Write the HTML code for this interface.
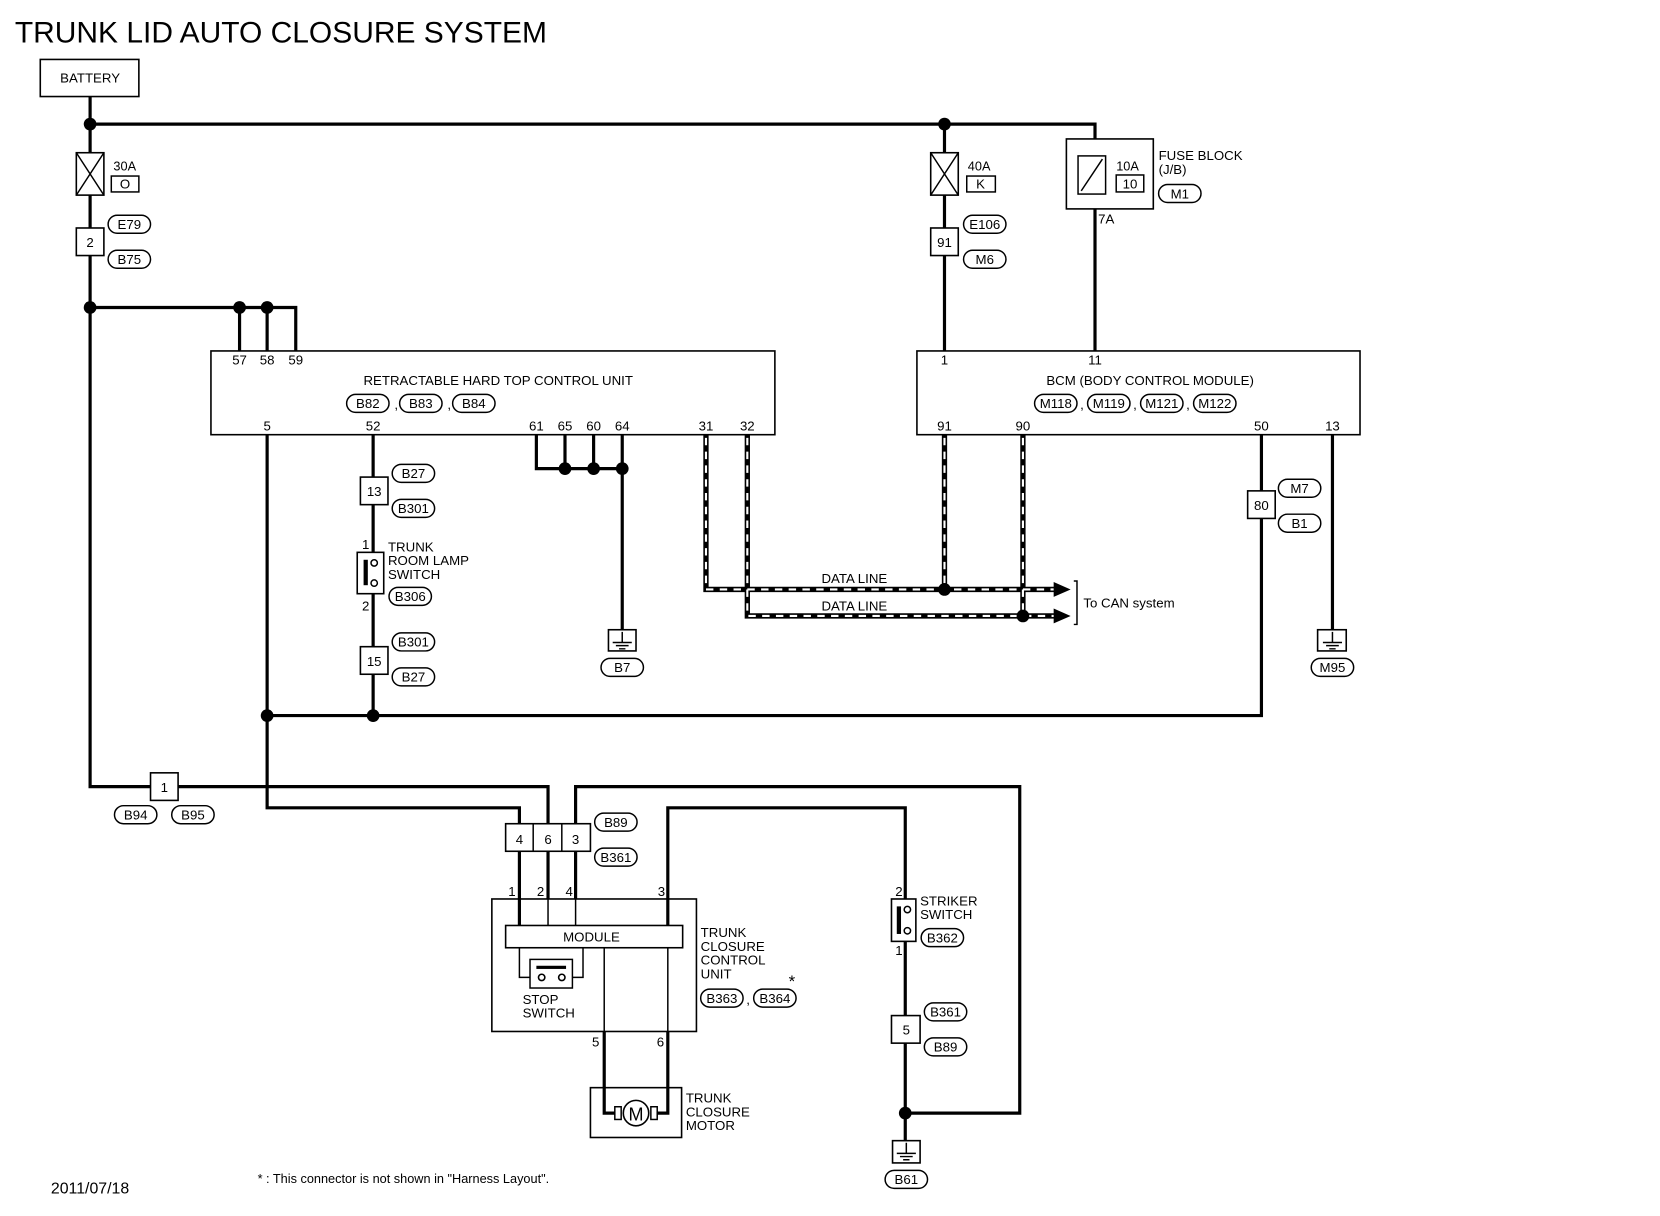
<!DOCTYPE html>
<html><head><meta charset="utf-8"><style>
html,body{margin:0;padding:0;background:#fff}
svg{display:block}
text{font-family:"Liberation Sans",sans-serif;font-size:12.5px;fill:#000}
.w{stroke:#000;stroke-width:3;fill:none}
.t{stroke:#000;stroke-width:1.4;fill:none}
.b{stroke:#000;stroke-width:1.5;fill:#fff}
.c{text-anchor:middle}
</style></head><body>
<svg width="1660" height="1216" viewBox="0 0 1566 1147" xmlns="http://www.w3.org/2000/svg">
<text x="14" y="40" style="font-size:28px" textLength="502" lengthAdjust="spacingAndGlyphs">TRUNK LID AUTO CLOSURE SYSTEM</text>
<!-- battery -->
<rect x="38" y="56" width="93" height="35" class="b"/><text x="85" y="78" class="c">BATTERY</text>
<path class="w" d="M85 91V742H517V777M85 117H1033V131M891 117V331M1033 197V331"/>
<circle cx="85" cy="117" r="6"/><circle cx="891" cy="117" r="6"/>
<!-- 30A fuse -->
<rect x="72" y="144" width="26" height="40" class="b"/><path class="t" d="M72 144L98 184M98 144L72 184"/>
<text x="107" y="161" style="font-size:12px">30A</text><rect x="105" y="166" width="26" height="15" class="t"/><text x="118" y="178" class="c">O</text>
<rect x="72" y="215" width="26" height="26" class="b"/><text x="85" y="233" class="c">2</text>
<rect x="102" y="203" width="40" height="17" rx="8.5" class="t"/><text x="122" y="216" class="c">E79</text>
<rect x="102" y="236" width="40" height="17" rx="8.5" class="t"/><text x="122" y="249" class="c">B75</text>
<path class="w" d="M85 290H279V331M226 290V331M252 290V331"/>
<circle cx="85" cy="290" r="6"/><circle cx="226" cy="290" r="6"/><circle cx="252" cy="290" r="6"/>
<!-- RHT unit -->
<rect x="199" y="331" width="532" height="79" class="b"/>
<text x="226" y="344" class="c">57</text><text x="252" y="344" class="c">58</text><text x="279" y="344" class="c">59</text>
<text x="470" y="363" class="c">RETRACTABLE HARD TOP CONTROL UNIT</text>
<rect x="327" y="372" width="40" height="17" rx="8.5" class="t"/><text x="347" y="385" class="c">B82</text><text x="372" y="386">,</text>
<rect x="377" y="372" width="40" height="17" rx="8.5" class="t"/><text x="397" y="385" class="c">B83</text><text x="422" y="386">,</text>
<rect x="427" y="372" width="40" height="17" rx="8.5" class="t"/><text x="447" y="385" class="c">B84</text>
<text x="252" y="406" class="c">5</text><text x="352" y="406" class="c">52</text><text x="506" y="406" class="c">61</text><text x="533" y="406" class="c">65</text><text x="560" y="406" class="c">60</text><text x="587" y="406" class="c">64</text><text x="666" y="406" class="c">31</text><text x="705" y="406" class="c">32</text>
<path class="w" d="M252 410V762H490V777M352 410V450M352 476V521M352 560V610M352 636V675M252 675H1190V410"/>
<circle cx="252" cy="675" r="6"/><circle cx="352" cy="675" r="6"/>
<rect x="340" y="450" width="26" height="26" class="b"/><text x="353" y="468" class="c">13</text>
<rect x="370" y="438" width="40" height="17" rx="8.5" class="t"/><text x="390" y="451" class="c">B27</text>
<rect x="370" y="471" width="40" height="17" rx="8.5" class="t"/><text x="390" y="484" class="c">B301</text>
<rect x="337" y="521" width="25" height="39" class="b"/><rect x="343" y="528" width="4" height="24"/><circle cx="353" cy="531" r="3" class="t"/><circle cx="353" cy="550" r="3" class="t"/>
<text x="345" y="518" class="c">1</text><text x="345" y="576" class="c">2</text>
<text x="366" y="520">TRUNK</text><text x="366" y="533">ROOM LAMP</text><text x="366" y="546">SWITCH</text>
<rect x="367" y="554" width="40" height="17" rx="8.5" class="t"/><text x="387" y="567" class="c">B306</text>
<rect x="340" y="610" width="26" height="26" class="b"/><text x="353" y="628" class="c">15</text>
<rect x="370" y="597" width="40" height="17" rx="8.5" class="t"/><text x="390" y="610" class="c">B301</text>
<rect x="370" y="630" width="40" height="17" rx="8.5" class="t"/><text x="390" y="643" class="c">B27</text>
<path class="w" d="M506 410V442H587M533 410V442M560 410V442M587 410V594"/>
<circle cx="533" cy="442" r="6"/><circle cx="560" cy="442" r="6"/><circle cx="587" cy="442" r="6"/>
<rect x="574" y="594" width="26" height="20" class="b"/><path class="t" d="M587 596V606M578 606H596M581 609H593M584 612H590"/>
<rect x="567" y="621" width="40" height="17" rx="8.5" class="t"/><text x="587" y="634" class="c">B7</text>
<!-- data lines -->
<path stroke="#000" stroke-width="5" fill="none" d="M666 410V556H1000M705 410V581H1000M891 410V556M965 410V581"/>
<path stroke="#fff" stroke-width="2" fill="none" stroke-dasharray="7 6" d="M666 413V556H995M705 413V581H995M891 413V556M965 413V581"/>
<path d="M994 549L1010 556L994 563Z M994 574L1010 581L994 588Z"/>
<circle cx="891" cy="556" r="6"/><circle cx="965" cy="581" r="6"/>
<text x="806" y="550" class="c">DATA LINE</text><text x="806" y="576" class="c">DATA LINE</text>
<path class="t" d="M1013 548H1016V589H1013"/>
<text x="1022" y="573">To CAN system</text>
<!-- 40A -->
<rect x="878" y="144" width="26" height="40" class="b"/><path class="t" d="M878 144L904 184M904 144L878 184"/>
<text x="913" y="161" style="font-size:12px">40A</text><rect x="912" y="166" width="27" height="15" class="t"/><text x="925" y="178" class="c">K</text>
<rect x="878" y="215" width="26" height="26" class="b"/><text x="891" y="233" class="c">91</text>
<rect x="909" y="203" width="40" height="17" rx="8.5" class="t"/><text x="929" y="216" class="c">E106</text>
<rect x="909" y="236" width="40" height="17" rx="8.5" class="t"/><text x="929" y="249" class="c">M6</text>
<!-- fuse block -->
<rect x="1006" y="131" width="82" height="66" class="b"/>
<rect x="1017" y="147" width="26" height="36" class="t"/><path class="t" d="M1020 180L1040 150"/>
<text x="1053" y="161" style="font-size:12px">10A</text><rect x="1053" y="165" width="26" height="16" class="t"/><text x="1066" y="178" class="c">10</text>
<text x="1093" y="151">FUSE BLOCK</text><text x="1093" y="164">(J/B)</text>
<rect x="1093" y="174" width="40" height="17" rx="8.5" class="t"/><text x="1113" y="187" class="c">M1</text>
<text x="1036" y="211">7A</text>
<!-- BCM -->
<rect x="865" y="331" width="418" height="79" class="b"/>
<text x="891" y="344" class="c">1</text><text x="1033" y="344" class="c">11</text>
<text x="1085" y="363" class="c">BCM (BODY CONTROL MODULE)</text>
<rect x="976" y="372" width="40" height="17" rx="8.5" class="t"/><text x="996" y="385" class="c">M118</text><text x="1019" y="386">,</text>
<rect x="1026" y="372" width="40" height="17" rx="8.5" class="t"/><text x="1046" y="385" class="c">M119</text><text x="1069" y="386">,</text>
<rect x="1076" y="372" width="40" height="17" rx="8.5" class="t"/><text x="1096" y="385" class="c">M121</text><text x="1119" y="386">,</text>
<rect x="1126" y="372" width="40" height="17" rx="8.5" class="t"/><text x="1146" y="385" class="c">M122</text>
<text x="891" y="406" class="c">91</text><text x="965" y="406" class="c">90</text><text x="1190" y="406" class="c">50</text><text x="1257" y="406" class="c">13</text>
<rect x="1177" y="463" width="26" height="26" class="b"/><text x="1190" y="481" class="c">80</text>
<rect x="1206" y="452" width="40" height="17" rx="8.5" class="t"/><text x="1226" y="465" class="c">M7</text>
<rect x="1206" y="485" width="40" height="17" rx="8.5" class="t"/><text x="1226" y="498" class="c">B1</text>
<path class="w" d="M1257 410V594"/>
<rect x="1243" y="594" width="27" height="20" class="b"/><path class="t" d="M1257 596V606M1248 606H1266M1251 609H1263M1254 612H1260"/>
<rect x="1237" y="621" width="40" height="17" rx="8.5" class="t"/><text x="1257" y="634" class="c">M95</text>
<!-- bottom -->
<rect x="142" y="729" width="26" height="26" class="b"/><text x="155" y="747" class="c">1</text>
<rect x="108" y="760" width="40" height="17" rx="8.5" class="t"/><text x="128" y="773" class="c">B94</text>
<rect x="162" y="760" width="40" height="17" rx="8.5" class="t"/><text x="182" y="773" class="c">B95</text>
<path class="w" d="M543 777V742H962V1050H854M630 848V762H854V848M854 888V1076M490 803V848M517 803V848M543 803V848M570 973V1026M630 973V1026"/>
<circle cx="854" cy="1050" r="6"/>
<rect x="477" y="777" width="80" height="26" class="b"/><path class="t" d="M503 777V803M530 777V803"/>
<text x="490" y="796" class="c">4</text><text x="517" y="796" class="c">6</text><text x="543" y="796" class="c">3</text>
<rect x="561" y="767" width="40" height="17" rx="8.5" class="t"/><text x="581" y="780" class="c">B89</text>
<rect x="561" y="800" width="40" height="17" rx="8.5" class="t"/><text x="581" y="813" class="c">B361</text>
<text x="483" y="845" class="c">1</text><text x="510" y="845" class="c">2</text><text x="537" y="845" class="c">4</text><text x="624" y="845" class="c">3</text>
<rect x="464" y="848" width="193" height="125" class="b"/>
<path class="t" d="M490 848V922H500M517 848V873M543 848V873M630 848V973M570 894V973M550 894V922H540"/>
<path class="w" d="M490 848V873M630 848V873"/>
<rect x="477" y="873" width="167" height="21" class="b"/><text x="558" y="888" class="c">MODULE</text>
<rect x="500" y="905" width="40" height="27" class="t"/><rect x="506" y="911" width="28" height="3"/><circle cx="511" cy="922" r="3" class="b"/><circle cx="530" cy="922" r="3" class="b"/>
<text x="493" y="947">STOP</text><text x="493" y="960">SWITCH</text>
<text x="661" y="884">TRUNK</text><text x="661" y="897">CLOSURE</text><text x="661" y="910">CONTROL</text><text x="661" y="923">UNIT</text>
<rect x="661" y="933" width="40" height="17" rx="8.5" class="t"/><text x="681" y="946" class="c">B363</text><text x="704" y="947">,</text>
<rect x="711" y="933" width="40" height="17" rx="8.5" class="t"/><text x="731" y="946" class="c">B364</text><text x="744" y="931" style="font-size:16px">*</text>
<text x="562" y="987" class="c">5</text><text x="623" y="987" class="c">6</text>
<rect x="557" y="1026" width="86" height="47" class="b"/>
<path class="w" d="M570 1026V1050H580M630 1026V1050H620"/>
<rect x="580" y="1044" width="6" height="12" class="t"/><rect x="614" y="1044" width="6" height="12" class="t"/>
<circle cx="600" cy="1050" r="12" class="b"/><text x="600" y="1057" class="c" style="font-size:17px">M</text>
<text x="647" y="1040">TRUNK</text><text x="647" y="1053">CLOSURE</text><text x="647" y="1066">MOTOR</text>
<rect x="841" y="848" width="23" height="40" class="b"/><rect x="846" y="855" width="4" height="26"/><circle cx="856" cy="858" r="3" class="t"/><circle cx="856" cy="878" r="3" class="t"/>
<text x="848" y="845" class="c">2</text><text x="848" y="901" class="c">1</text>
<text x="868" y="854">STRIKER</text><text x="868" y="867">SWITCH</text>
<rect x="869" y="876" width="40" height="17" rx="8.5" class="t"/><text x="889" y="889" class="c">B362</text>
<rect x="841" y="958" width="27" height="26" class="b"/><text x="855" y="976" class="c">5</text>
<rect x="872" y="946" width="40" height="17" rx="8.5" class="t"/><text x="892" y="959" class="c">B361</text>
<rect x="872" y="979" width="40" height="17" rx="8.5" class="t"/><text x="892" y="992" class="c">B89</text>
<rect x="842" y="1076" width="26" height="21" class="b"/><path class="t" d="M855 1078V1088M846 1088H864M849 1091H861M852 1094H858"/>
<rect x="835" y="1104" width="40" height="17" rx="8.5" class="t"/><text x="855" y="1117" class="c">B61</text>
<text x="48" y="1126" style="font-size:15px">2011/07/18</text>
<text x="243" y="1116" style="font-size:12px">* : This connector is not shown in "Harness Layout".</text>
</svg>
</body></html>
